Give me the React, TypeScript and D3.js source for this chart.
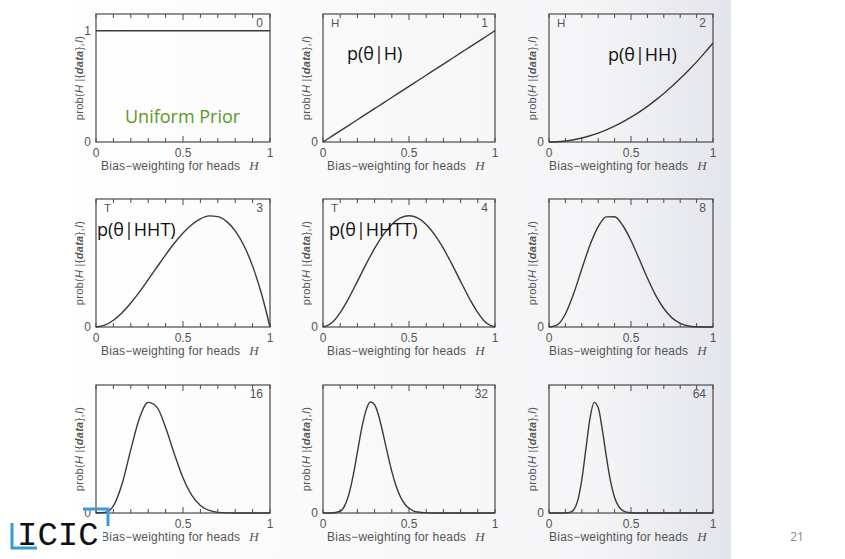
import React from 'react';
import * as d3 from 'd3';

// bias-weighting grid (coarse and fine)
const hGrid = [0, 0.05, 0.1, 0.15, 0.2, 0.25, 0.3, 0.35, 0.4, 0.45, 0.5, 0.55, 0.6, 0.65, 0.7, 0.75, 0.8, 0.85, 0.9, 0.95, 1];
const hFine = [0, 0.05, 0.1, 0.125, 0.15, 0.175, 0.2, 0.225, 0.25, 0.275, 0.3, 0.325, 0.35, 0.375, 0.4, 0.425, 0.45, 0.475, 0.5, 0.525, 0.55, 0.6, 0.7, 0.8, 0.9, 1];

const post0 = [1, 1, 1, 1, 1, 1, 1, 1, 1, 1, 1, 1, 1, 1, 1, 1, 1, 1, 1, 1, 1];
const post1 = [0, 0.05, 0.1, 0.15, 0.2, 0.25, 0.3, 0.35, 0.4, 0.45, 0.5, 0.55, 0.6, 0.65, 0.7, 0.75, 0.8, 0.85, 0.9, 0.95, 1];
const post2 = [0, 0.002, 0.009, 0.02, 0.036, 0.056, 0.08, 0.109, 0.142, 0.18, 0.223, 0.269, 0.32, 0.376, 0.436, 0.5, 0.57, 0.643, 0.72, 0.803, 0.89];
const post3 = [0, 0.016, 0.061, 0.129, 0.216, 0.316, 0.425, 0.537, 0.648, 0.752, 0.844, 0.919, 0.972, 0.998, 0.992, 0.949, 0.864, 0.732, 0.547, 0.305, 0];
const post4 = [0, 0.036, 0.13, 0.26, 0.41, 0.563, 0.706, 0.828, 0.922, 0.98, 1, 0.98, 0.922, 0.828, 0.706, 0.563, 0.41, 0.26, 0.13, 0.036, 0];
const post8 = [0, 0.019, 0.117, 0.298, 0.521, 0.737, 0.902, 0.989, 0.99, 0.912, 0.777, 0.611, 0.44, 0.287, 0.166, 0.082, 0.033, 0.009, 0.002, 0, 0];
const post16 = [0, 0.004, 0.065, 0.263, 0.569, 0.853, 0.994, 0.951, 0.768, 0.532, 0.316, 0.16, 0.068, 0.023, 0.006, 0.001, 0, 0, 0, 0, 0];
const post32 = [0, 0, 0.016, 0.062, 0.165, 0.333, 0.546, 0.76, 0.922, 0.997, 0.973, 0.867, 0.708, 0.535, 0.374, 0.242, 0.146, 0.081, 0.042, 0.02, 0.009, 0.0015, 0, 0, 0, 0];
const post64 = [0, 0, 0.0003, 0.004, 0.027, 0.111, 0.298, 0.576, 0.85, 0.994, 0.947, 0.75, 0.504, 0.286, 0.14, 0.059, 0.021, 0.007, 0.002, 0, 0, 0, 0, 0, 0, 0];

const tosses = ['0', '1', '2', '3', '4', '8', '16', '32', '64'];
const lastToss = ['', 'H', 'H', 'T', 'T', '', '', '', ''];
const notes = ['Uniform Prior', 'p(θ|H)', 'p(θ|HH)', 'p(θ|HHT)', 'p(θ|HHTT)', '', '', '', ''];
const xTickLabels = ['0', '0.5', '1'];

const panels = [
  { xs: hGrid, ys: post0 },
  { xs: hGrid, ys: post1 },
  { xs: hGrid, ys: post2 },
  { xs: hGrid, ys: post3 },
  { xs: hGrid, ys: post4 },
  { xs: hGrid, ys: post8 },
  { xs: hGrid, ys: post16 },
  { xs: hFine, ys: post32 },
  { xs: hFine, ys: post64 },
];

const colLeft = [96, 323, 549];
const colWidth = [174, 172, 164];
const rowTop = [14, 199, 385];
const panelH = 128;
const ink = '#4a4a4a';
const labelFont = '"Liberation Sans", Arial, sans-serif';

const Panel = ({ i }: { i: number }) => {
  const col = i % 3;
  const row = Math.floor(i / 3);
  const left = colLeft[col];
  const w = colWidth[col];
  const top = rowTop[row];
  const bottom = top + panelH;

  const x = d3.scaleLinear().domain([0, 1]).range([left, left + w]);
  const y = d3.scaleLinear().domain([0, 1.15]).range([bottom, top]);

  const { xs, ys } = panels[i];
  const line = d3
    .line<number>()
    .x((_, k) => x(xs[k]))
    .y((d) => y(d))
    .curve(d3.curveMonotoneX);

  const minor = d3.range(0, 11).map((k) => k / 10);

  return (
    <g>
      <rect x={left} y={top} width={w} height={panelH} fill="none" stroke={ink} strokeWidth={1.2} />
      {minor.map((t) => {
        const len = t === 0.5 ? 6 : 4;
        return (
          <g key={t}>
            <line x1={x(t)} x2={x(t)} y1={bottom} y2={bottom - len} stroke={ink} strokeWidth={1} />
            <line x1={x(t)} x2={x(t)} y1={top} y2={top + len} stroke={ink} strokeWidth={1} />
          </g>
        );
      })}
      <path d={line(ys) || ''} fill="none" stroke="#3a3a3a" strokeWidth={1.4} />

      {xTickLabels.map((t) => (
        <text key={t} x={x(+t)} y={bottom + 15} textAnchor="middle" fontSize={12} fill="#555" fontFamily={labelFont}>
          {t}
        </text>
      ))}
      <text x={left - 5} y={y(0)} dy="0.35em" textAnchor="end" fontSize={12} fill="#555" fontFamily={labelFont}>
        0
      </text>
      {i === 0 && (
        <text x={left - 5} y={y(1)} dy="0.35em" textAnchor="end" fontSize={12} fill="#555" fontFamily={labelFont}>
          1
        </text>
      )}

      <text
        x={left + w / 2 - 3}
        y={bottom + 28}
        textAnchor="middle"
        fontSize={12}
        letterSpacing={0.2}
        fill="#555"
        fontFamily={labelFont}
      >
        Bias−weighting for heads
        <tspan dx={9} fontStyle="italic" fontFamily='"Liberation Serif", serif' fontSize={13}>H</tspan>
      </text>

      <text
        transform={`translate(${left - 13},${top + panelH / 2}) rotate(-90)`}
        textAnchor="middle"
        fontSize={11}
        letterSpacing={0.3}
        fill="#555"
        fontFamily={labelFont}
      >
        prob(<tspan fontStyle="italic">H</tspan> |{'{'}<tspan fontStyle="italic" fontWeight="bold">data</tspan>{'}'},<tspan fontStyle="italic">I</tspan>)
      </text>

      <text x={left + w - 7} y={top + 13} textAnchor="end" fontSize={12} fill="#555" fontFamily={labelFont}>
        {tosses[i]}
      </text>
      {lastToss[i] && (
        <text x={left + 8} y={top + 13} fontSize={11.5} fill="#555" fontFamily={labelFont}>
          {lastToss[i]}
        </text>
      )}
    </g>
  );
};

const notePos = [
  { x: 125, y: 123, fill: '#5a9a1f' },
  { x: 347, y: 60, fill: '#111' },
  { x: 608, y: 61, fill: '#111' },
  { x: 97, y: 236, fill: '#111' },
  { x: 329, y: 236, fill: '#111' },
];

const App = () => {
  return (
    <svg width={845} height={559} style={{ position: 'absolute', left: 0, top: 0 }}>
      <defs>
        <linearGradient id="page" x1="0%" y1="0%" x2="100%" y2="0%">
          <stop offset="0%" stopColor="#ffffff" />
          <stop offset="80%" stopColor="#f5f5f7" />
          <stop offset="100%" stopColor="#e3e5ec" />
        </linearGradient>
      </defs>
      <rect x={0} y={0} width={845} height={559} fill="#fff" />
      <rect x={50} y={0} width={681} height={559} fill="url(#page)" />

      {panels.map((_, i) => (
        <Panel key={i} i={i} />
      ))}

      {notePos.map((p, i) => (
        <text key={i} x={p.x} y={p.y} fontSize={18} fill={p.fill} fontFamily='"Open Sans", sans-serif'>
          {notes[i]}
        </text>
      ))}

      {/* logo sits over the scan, hiding what is under it */}
      <g>
        <rect x={15} y={518} width={88} height={30} fill="#fff" />
        <polyline points="12,523 12,548 37,548" fill="none" stroke="#3b9bd8" strokeWidth={3} />
        <polyline points="83,509 108,509 108,526" fill="none" stroke="#3b9bd8" strokeWidth={3} />
        <text x={17} y={545} fontSize={34} fill="#111" fontFamily='"Liberation Mono", monospace'>
          ICIC
        </text>
      </g>

      <text x={797} y={541} textAnchor="middle" fontSize={12} fill="#888" fontFamily='"Open Sans", sans-serif'>
        21
      </text>
    </svg>
  );
};

export default App;
